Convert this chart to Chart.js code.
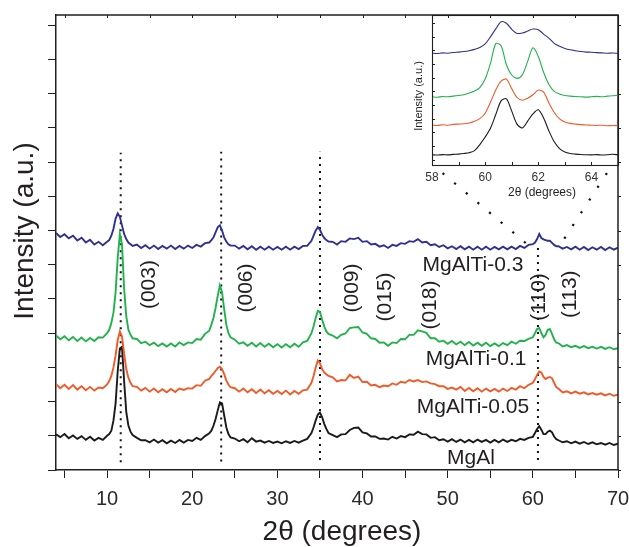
<!DOCTYPE html>
<html>
<head>
<meta charset="utf-8">
<script src="https://cdn.jsdelivr.net/npm/chart.js@4.4.1/dist/chart.umd.min.js"></script>
<style>
html,body{margin:0;padding:0;background:#fff;}
#wrap{position:relative;width:629px;height:547px;overflow:hidden;}
#main{position:absolute;left:0;top:0;}
#inset{position:absolute;left:390px;top:0;}
</style>
</head>
<body>
<div id="wrap">
<canvas id="main" width="629" height="547"></canvas>
<canvas id="inset" width="239" height="210"></canvas>
</div>
<script>
// ---------- main pattern data ----------
const twoTheta = [4,4.5,5,5.5,6,6.5,7,7.5,8,8.5,9,9.5,10,
10.25,10.5,10.75,11,11.25,11.5,11.75,12,12.25,12.5,12.75,13,
13.5,14,14.5,15,15.5,16,16.5,17,17.5,18,18.5,19,19.5,20,20.5,21,21.5,22,
22.25,22.5,22.75,23,23.25,23.5,23.75,24,24.25,24.5,
25,25.5,26,26.5,27,27.5,28,28.5,29,29.5,30,30.5,31,31.5,32,32.5,33,33.5,34,
34.25,34.5,34.75,35,35.25,35.5,35.75,36,
36.5,37,37.5,38,38.5,39,39.5,40,40.5,41,41.5,42,42.5,43,43.5,44,44.5,45,45.5,46,46.5,47,47.5,48,48.5,49,49.5,50,50.5,51,51.5,52,52.5,53,53.5,54,54.5,55,55.5,56,56.5,57,57.5,58,58.5,59,59.5,60,
60.25,60.5,60.75,61,61.25,61.5,61.75,62,62.25,62.5,62.75,
63,63.5,64,64.5,65,65.5,66,66.5,67,67.5,68,68.5,69,69.5,70];

const mgAl = [1.04,0.96,1.05,0.93,1.01,0.91,0.99,0.88,0.97,0.86,0.94,0.88,1.0,
1.05,1.15,1.45,1.95,2.9,3.55,3.6,2.6,1.7,1.3,1.12,1.02,
0.94,0.87,0.87,0.81,0.89,0.8,0.87,0.78,0.86,0.79,0.88,0.8,0.88,0.85,0.94,0.88,0.99,1.07,
1.15,1.3,1.5,1.75,1.98,1.95,1.6,1.25,1.05,0.95,
0.92,0.84,0.9,0.81,0.93,0.83,0.86,0.8,0.85,0.79,0.83,0.78,0.84,0.79,0.85,0.8,0.86,0.91,1.08,
1.25,1.45,1.62,1.68,1.55,1.35,1.2,1.08,
1.02,0.96,1.04,1.05,1.17,1.23,1.24,1.1,1.07,0.98,0.98,0.91,0.92,0.89,0.97,0.92,0.99,0.96,1.04,1.03,1.12,1.05,1.04,0.94,0.96,0.87,0.9,0.83,0.9,0.82,0.89,0.81,0.88,0.81,0.89,0.82,0.88,0.8,0.88,0.81,0.89,0.82,0.88,0.84,0.91,0.88,0.94,0.97,
1.08,1.2,1.28,1.18,1.05,1.05,1.12,1.15,1.1,0.98,0.9,
0.87,0.81,0.84,0.78,0.83,0.77,0.82,0.76,0.81,0.75,0.79,0.74,0.79,0.73,0.77];

const mgAlTi005 = [2.51,2.39,2.49,2.37,2.48,2.35,2.45,2.33,2.43,2.32,2.41,2.39,2.5,
2.6,2.75,3.0,3.35,3.8,4.05,3.9,3.4,2.95,2.7,2.55,2.45,
2.43,2.32,2.4,2.29,2.38,2.27,2.36,2.27,2.37,2.28,2.38,2.34,2.39,2.38,2.48,2.46,2.61,2.66,
2.75,2.82,2.9,2.98,3.02,2.95,2.8,2.62,2.5,2.42,
2.39,2.29,2.38,2.27,2.36,2.25,2.35,2.24,2.33,2.23,2.31,2.22,2.32,2.21,2.31,2.23,2.33,2.35,2.55,
2.75,3.0,3.2,3.12,2.95,2.85,2.8,2.75,
2.71,2.59,2.63,2.62,2.78,2.69,2.73,2.57,2.58,2.47,2.49,2.42,2.47,2.45,2.53,2.49,2.58,2.55,2.63,2.59,2.63,2.57,2.59,2.53,2.51,2.45,2.45,2.37,2.41,2.35,2.43,2.31,2.4,2.3,2.39,2.29,2.38,2.3,2.37,2.29,2.38,2.31,2.4,2.35,2.45,2.39,2.49,2.55,
2.65,2.78,2.88,2.85,2.72,2.66,2.7,2.72,2.68,2.55,2.42,
2.38,2.27,2.3,2.24,2.29,2.23,2.27,2.21,2.25,2.2,2.24,2.18,2.23,2.17,2.2];

const mgAlTi01 = [3.93,3.82,3.91,3.79,3.89,3.77,3.87,3.76,3.86,3.77,3.88,3.87,4.0,
4.1,4.3,4.6,5.2,6.2,6.9,6.6,5.3,4.5,4.1,3.95,3.85,
3.83,3.71,3.75,3.65,3.72,3.62,3.7,3.61,3.7,3.61,3.73,3.65,3.73,3.71,3.83,3.81,3.98,4.07,
4.25,4.45,4.75,5.1,5.4,5.2,4.7,4.25,4.0,3.88,
3.81,3.69,3.73,3.63,3.72,3.61,3.71,3.6,3.69,3.59,3.68,3.58,3.68,3.59,3.69,3.6,3.73,3.77,4.0,
4.2,4.45,4.65,4.62,4.4,4.2,4.05,3.98,
3.93,3.85,3.95,3.99,4.15,4.17,4.18,4.02,3.98,3.85,3.83,3.72,3.73,3.63,3.73,3.71,3.83,3.82,3.95,3.95,4.08,4.05,4.01,3.85,3.85,3.75,3.78,3.69,3.77,3.67,3.75,3.65,3.74,3.64,3.72,3.63,3.72,3.62,3.7,3.62,3.71,3.65,3.75,3.69,3.78,3.77,3.83,3.88,
4.0,4.12,4.15,4.0,3.88,3.95,4.1,4.12,3.98,3.82,3.72,
3.71,3.61,3.65,3.59,3.63,3.57,3.62,3.56,3.6,3.55,3.6,3.54,3.59,3.53,3.56];

const mgAlTi03 = [6.93,6.81,6.89,6.77,6.85,6.71,6.79,6.65,6.73,6.59,6.67,6.57,6.67,
6.72,6.85,7.05,7.35,7.5,7.4,7.15,6.9,6.75,6.65,6.6,6.55,
6.59,6.49,6.57,6.47,6.56,6.46,6.55,6.47,6.56,6.46,6.55,6.47,6.56,6.49,6.58,6.53,6.63,6.65,
6.72,6.8,6.95,7.1,7.15,7.0,6.8,6.68,6.6,6.56,
6.56,6.47,6.55,6.45,6.54,6.44,6.53,6.44,6.53,6.44,6.52,6.44,6.53,6.44,6.53,6.46,6.55,6.55,6.7,
6.85,7.0,7.1,7.02,6.88,6.78,6.72,6.68,
6.67,6.59,6.69,6.67,6.77,6.75,6.79,6.67,6.69,6.59,6.61,6.53,6.57,6.49,6.58,6.55,6.63,6.61,6.69,6.67,6.75,6.65,6.67,6.57,6.6,6.52,6.57,6.48,6.54,6.46,6.54,6.45,6.53,6.44,6.53,6.44,6.53,6.44,6.52,6.45,6.53,6.45,6.53,6.46,6.55,6.49,6.58,6.6,
6.65,6.75,6.9,6.78,6.74,6.72,6.7,6.7,6.64,6.58,6.54,
6.54,6.47,6.52,6.45,6.53,6.44,6.52,6.43,6.51,6.44,6.52,6.43,6.51,6.44,6.5];

const seriesNames = ['MgAl','MgAlTi-0.05','MgAlTi-0.1','MgAlTi-0.3'];
const seriesColors = ['#1a1a1a','#f15a29','#22b24c','#2e3192'];

const xTickValues = [5,10,15,20,25,30,35,40,45,50,55,60,65,70];
const xTickLabels = ['','10','','20','','30','','40','','50','','60','','70'];
const yTickValues = [0,1,2,3,4,5,6,7,8,9,10,11,12,13];

// reflection labels and guide lines
const reflNames = ['(003)','(006)','(009)','(015)','(018)','(110)','(113)'];
const reflX = [15.0,26.3,38.8,42.7,48.0,60.7,64.4];
const reflY = [5.42,5.32,5.32,5.06,4.82,5.06,5.14];
const dropX = [11.6,23.4,35.0,60.6];
const dropTop = [9.27,9.3,9.3,6.6];
const dropBottom = [0.23,0.25,0.29,0.29];
const zoomLineA = [[49.4,8.68],[60.0,6.46]];
const zoomLineB = [[68.7,8.68],[62.9,6.46]];
const seriesLabelX = [52.74,52.97,53.33,52.97];
const seriesLabelY = [0.35,1.84,3.24,5.99];

// ---------- inset data ----------
const insetTheta = [58,58.2,58.4,58.6,58.8,59,59.2,59.4,59.6,59.8,60,60.2,60.4,60.6,60.8,61,61.2,61.4,61.6,61.8,62,62.2,62.4,62.6,62.8,63,63.2,63.4,63.6,63.8,64,64.2,64.4,64.6,64.8,65];
const insetMgAl = [0.75,0.73,0.76,0.74,0.78,0.8,0.84,0.9,1.05,1.5,2.05,2.7,3.7,4.7,4.85,3.95,3.0,2.72,3.22,3.75,4.05,3.45,2.5,1.7,1.2,0.95,0.84,0.8,0.77,0.75,0.74,0.76,0.73,0.75,0.79,0.74];
const insetMgAlTi005 = [2.93,2.9,2.95,2.92,2.98,3.0,3.02,3.08,3.2,3.4,3.8,4.6,5.5,6.15,6.3,5.6,4.95,4.75,4.9,5.15,5.5,5.35,4.55,3.85,3.38,3.15,3.05,3.0,2.96,2.93,2.92,2.9,2.92,2.88,2.9,2.88];
const insetMgAlTi01 = [5.0,4.97,5.02,5.0,5.05,5.1,5.15,5.28,5.42,5.68,6.3,7.45,8.9,8.75,7.35,6.6,6.35,6.62,7.6,8.6,7.95,6.8,5.9,5.4,5.2,5.1,5.05,5.02,5.0,4.98,5.0,5.03,5.0,5.05,5.08,5.1];
const insetMgAlTi03 = [8.2,8.18,8.22,8.2,8.25,8.28,8.32,8.38,8.48,8.62,8.88,9.4,9.98,10.5,10.4,9.95,9.65,9.68,9.82,9.97,9.92,9.6,9.3,8.92,8.7,8.55,8.45,8.38,8.32,8.28,8.27,8.24,8.22,8.2,8.21,8.18];
const insetTickValues = [58,60,62,64];

const FONT = "'Liberation Sans', Arial, Helvetica, sans-serif";
const INK = '#231f20';

function pts(xs, ys){ return xs.map((x,i)=>({x:x,y:ys[i]})); }
function noPad(s){ s.paddingLeft = 0; s.paddingRight = 0; s.paddingTop = 0; s.paddingBottom = 0; }

const mainSeries = [mgAl, mgAlTi005, mgAlTi01, mgAlTi03];
const datasets = [];
dropX.forEach((x,i)=>{
  datasets.push({data:[{x:x,y:dropBottom[i]},{x:x,y:dropTop[i]}], borderColor:'#111', borderWidth:2,
    borderDash:[2,5], pointRadius:0, tension:0, order:10});
});
[zoomLineA, zoomLineB].forEach(l=>{
  datasets.push({data:l.map(p=>({x:p[0],y:p[1]})), borderColor:'#111', borderWidth:2.2,
    borderDash:[2.2,13], pointRadius:0, tension:0, order:10});
});
mainSeries.forEach((s,i)=>{
  datasets.push({label:seriesNames[i], data:pts(twoTheta,s), borderColor:seriesColors[i],
    borderWidth:1.9, pointRadius:0, tension:0, order:5-i});
});

const mainDecor = {
  id:'mainDecor',
  afterDraw(chart){
    const {ctx, chartArea:a, scales:{x,y}} = chart;
    ctx.save();
    ctx.strokeStyle = INK; ctx.lineWidth = 1.5;
    ctx.beginPath(); ctx.moveTo(a.left, a.top); ctx.lineTo(a.right, a.top); ctx.lineTo(a.right, a.bottom); ctx.stroke();
    ctx.lineWidth = 1;
    ctx.beginPath();
    xTickValues.forEach(v=>{ const px=Math.round(x.getPixelForValue(v))+0.5; ctx.moveTo(px,a.top); ctx.lineTo(px,a.top+3); });
    yTickValues.forEach(v=>{ const py=Math.round(y.getPixelForValue(v))+0.5; ctx.moveTo(a.right,py); ctx.lineTo(a.right+3,py); });
    ctx.stroke();
    ctx.fillStyle = INK;
    ctx.font = '21px ' + FONT; ctx.textAlign='center'; ctx.textBaseline='middle';
    seriesNames.forEach((n,i)=>{ ctx.fillText(n, x.getPixelForValue(seriesLabelX[i]), y.getPixelForValue(seriesLabelY[i])); });
    reflNames.forEach((n,i)=>{
      ctx.save(); ctx.translate(x.getPixelForValue(reflX[i]), y.getPixelForValue(reflY[i]));
      ctx.rotate(-Math.PI/2); ctx.fillText(n,0,0); ctx.restore();
    });
    ctx.font = '28px ' + FONT;
    ctx.fillText('2\u03b8 (degrees)', 342, 532);
    ctx.save(); ctx.translate(25, 231); ctx.rotate(-Math.PI/2); ctx.fillText('Intensity (a.u.)',0,0); ctx.restore();
    ctx.restore();
  }
};

new Chart(document.getElementById('main'), {
  type:'line',
  data:{datasets:datasets},
  options:{
    responsive:false, animation:false, events:[],
    layout:{padding:{left:0,right:11,top:15,bottom:0}},
    plugins:{legend:{display:false}, tooltip:{enabled:false}},
    scales:{
      x:{type:'linear', min:4, max:70,
        afterBuildTicks(s){ s.ticks = xTickValues.map(v=>({value:v})); },
        afterFit(s){ s.height = 77; noPad(s); },
        grid:{display:true, drawOnChartArea:false, drawTicks:true, tickLength:8, color:INK, lineWidth:1},
        border:{display:true, color:INK, width:1.5},
        ticks:{autoSkip:false, maxRotation:0, padding:9, color:'#2a2a2a', font:{family:FONT, size:20},
          callback(v,i){ return xTickLabels[i]; }}
      },
      y:{type:'linear', min:0, max:13.3,
        afterBuildTicks(s){ s.ticks = yTickValues.map(v=>({value:v})); },
        afterFit(s){ s.width = 56; noPad(s); },
        grid:{display:true, drawOnChartArea:false, drawTicks:true, tickLength:8, color:INK, lineWidth:1},
        border:{display:true, color:INK, width:1.5},
        ticks:{display:true, callback(){ return ''; }, padding:0, font:{size:1}}
      }
    }
  },
  plugins:[mainDecor]
});

// ---------- inset ----------
const insetSeries = [insetMgAl, insetMgAlTi005, insetMgAlTi01, insetMgAlTi03];
const insetDatasets = insetSeries.map((s,i)=>({label:seriesNames[i], data:pts(insetTheta,s),
  borderColor:seriesColors[i], borderWidth:1.1, pointRadius:0, tension:0.3}));

const insetDecor = {
  id:'insetDecor',
  afterDraw(chart){
    const {ctx, chartArea:a, scales:{x,y}} = chart;
    ctx.save();
    ctx.strokeStyle = INK; ctx.lineWidth = 1.1;
    ctx.strokeRect(Math.round(a.left)+0.5, Math.round(a.top)+0.5, Math.round(a.right-a.left), Math.round(a.bottom-a.top));
    ctx.lineWidth = 1;
    ctx.beginPath();
    for (let v=58; v<=65; v+=1){ const px=Math.round(x.getPixelForValue(v))+0.5; ctx.moveTo(px,a.bottom); ctx.lineTo(px,a.bottom-3); }
    for (let k=0; k<=10; k++){ const py=Math.round(y.getPixelForValue(k+0.4))+0.5; ctx.moveTo(a.left,py); ctx.lineTo(a.left+3,py); }
    ctx.stroke();
    ctx.fillStyle = INK; ctx.textAlign='center'; ctx.textBaseline='middle';
    ctx.font = '12px ' + FONT;
    ctx.fillText('2\u03b8 (degrees)', 152, 193);
    ctx.font = '11px ' + FONT;
    ctx.save(); ctx.translate(29, 96); ctx.rotate(-Math.PI/2); ctx.fillText('Intensity (a.u.)',0,0); ctx.restore();
    ctx.restore();
  }
};

new Chart(document.getElementById('inset'), {
  type:'line',
  data:{datasets:insetDatasets},
  options:{
    responsive:false, animation:false, events:[],
    layout:{padding:{left:0,right:11,top:15,bottom:0}},
    plugins:{legend:{display:false}, tooltip:{enabled:false}},
    scales:{
      x:{type:'linear', min:58, max:65,
        afterBuildTicks(s){ s.ticks = insetTickValues.map(v=>({value:v})); },
        afterFit(s){ s.height = 45; noPad(s); },
        grid:{display:false, drawTicks:false}, border:{display:false},
        ticks:{autoSkip:false, maxRotation:0, padding:5, color:'#333', font:{family:FONT, size:12},
          callback(v){ return String(v); }}
      },
      y:{type:'linear', min:0, max:11,
        afterFit(s){ s.width = 42; noPad(s); },
        grid:{display:false, drawTicks:false}, border:{display:false},
        ticks:{display:false}
      }
    }
  },
  plugins:[insetDecor]
});
</script>
</body>
</html>
